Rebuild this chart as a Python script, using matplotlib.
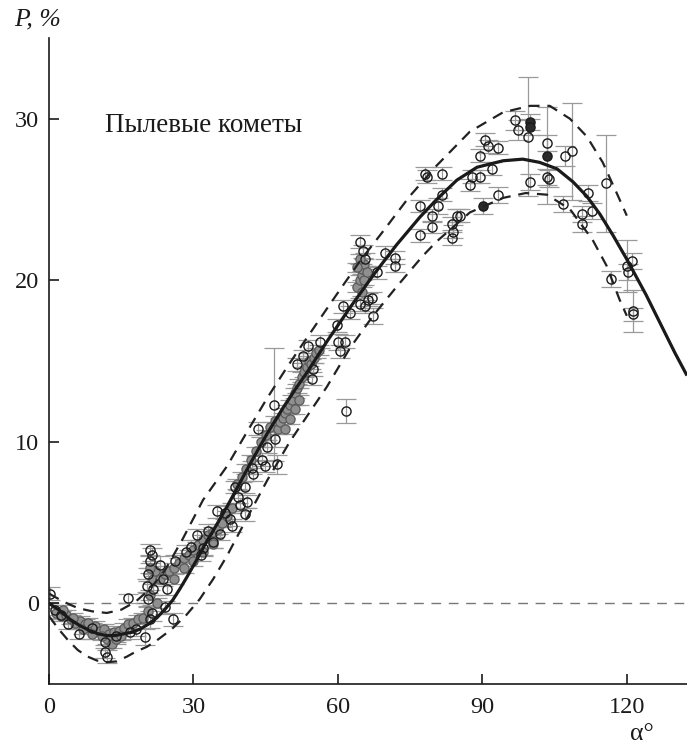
import numpy as np
import matplotlib
matplotlib.use("Agg")
import matplotlib.pyplot as plt

plt.rcParams["font.family"] = ["Liberation Serif", "DejaVu Serif"]

# fitted curve and its envelope
fit_alpha = [0, 2, 4.4, 6.5, 8.5, 10.3, 12, 13.7, 15.4, 17.2, 18.9, 20.6, 22.4, 24, 25.7,
             27.2, 28.6, 30.7, 32.5, 34.5, 37, 39, 41.7, 45.3, 48.6, 51.5, 53.6, 57.7, 62.5,
             67.3, 72.2, 77, 80.5, 84.7, 88.9, 94.3, 98.4, 101.9, 105.5, 108.8, 111.7, 114.4,
             117.1, 120, 122, 124, 126, 128, 130, 132.5]
fit_p = [0.0, -0.4, -1.0, -1.4, -1.7, -1.9, -2.0, -2.0, -1.9, -1.8, -1.6, -1.3, -0.9, -0.4, 0.2,
         0.9, 1.6, 2.7, 3.7, 4.7, 6.0, 7.1, 8.6, 10.5, 12.1, 13.4, 14.3, 16.2, 18.3,
         20.3, 22.2, 23.9, 25.0, 26.2, 27.0, 27.4, 27.5, 27.3, 26.9, 26.1, 25.2, 24.1,
         22.8, 21.3, 20.2, 19.1, 17.9, 16.7, 15.5, 14.1]

upper_alpha = [0, 3, 6, 9, 12, 15, 18, 21, 24, 27.8, 29.9, 32, 37, 41.1, 45.3, 49.4, 52.1, 59,
               64.6, 69.3, 74.9, 80.5, 87.4, 94.3, 99.9, 104, 108.2, 111.7, 115, 117.9, 120]
upper_p = [0.6, 0.1, -0.3, -0.5, -0.6, -0.4, 0.1, 0.9, 2.0, 4.0, 5.2, 6.4, 8.5, 10.6, 12.7, 14.6,
           15.8, 18.8, 21.2, 23.0, 25.2, 27.1, 29.2, 30.4, 30.8, 30.8, 30.0, 28.9, 27.3, 25.4, 24.0]

lower_alpha = [0, 2, 4, 6, 8, 10, 12, 14, 16.2, 18, 20.3, 22.4, 25.5, 28.6, 31.3, 34.1, 36.9,
               41.7, 45.3, 50, 57.7, 62.5, 67.3, 72.2, 77.6, 80.5, 87.4, 94.3, 99, 103.4, 108.2,
               112.9, 115.8, 118.5, 120]
lower_p = [-0.8, -1.6, -2.3, -2.9, -3.3, -3.55, -3.65, -3.6, -3.3, -3.0, -2.7, -2.3, -1.6, -0.7,
           0.25, 1.5, 2.9, 5.6, 7.6, 10.0, 13.4, 15.8, 17.8, 19.6, 21.5, 22.4, 24.2, 25.1, 25.4,
           25.3, 24.4, 22.5, 20.9, 18.8, 17.8]

# open-circle observations
obs_alpha = [0.2, 1.2, 2.5, 4.0, 6.2, 9.0, 11.6, 11.6, 12.0, 14.0, 16.4, 16.8, 18.0, 19.9,
             21.0, 21.4, 21.0, 20.6, 23.0, 26.2, 20.6, 21.4, 24.1, 25.8, 21.0, 23.6, 21.6,
             20.3, 24.5, 28.5, 29.5, 31.5, 32.0, 33.0, 35.5, 36.5,
             30.7, 34.0, 34.9, 37.6, 38.0, 40.7, 39.7, 41.1, 39.2, 38.6, 40.7, 42.1, 42.4,
             44.2, 44.8, 47.3, 45.3, 46.9, 43.4, 46.7, 61.7, 51.5, 52.7, 53.8, 56.3, 54.8,
             54.6, 59.8, 60.0, 61.5, 60.4, 61.0, 62.5, 64.6, 65.6, 66.2, 67.1, 67.3, 68.1,
             64.6, 65.2, 65.6, 69.8, 71.8, 71.8,
             78.1, 78.5, 81.6, 81.6, 77.0, 80.8, 79.5, 79.5, 77.0, 84.7, 85.3, 83.7, 83.9,
             83.7, 93.2, 87.4, 87.8, 89.5, 92.0, 89.5, 90.5, 91.1, 93.2, 96.7, 97.4, 99.4,
             99.9, 103.4, 103.4, 103.8, 107.1, 108.6, 106.7, 111.9, 110.7, 112.7, 110.7,
             115.6, 121.0, 120.0, 120.2, 116.7, 121.2, 121.2]
obs_p = [0.6, -0.4, -0.7, -1.3, -1.9, -1.5, -2.4, -3.0, -3.3, -2.0, 0.3, -1.8, -1.6, -2.1,
         3.3, 3.0, 2.6, 1.8, 2.4, 2.6, 0.25, -0.6, -0.25, -1.0, -1.0, 1.5, 0.9,
         1.1, 0.9, 3.2, 3.5, 3.0, 3.4, 4.5, 4.3, 5.6,
         4.2, 3.8, 5.7, 5.2, 4.8, 5.5, 6.1, 6.3, 6.6, 7.2, 7.2, 8.4, 8.0,
         8.9, 8.5, 8.6, 9.7, 10.2, 10.8, 12.3, 11.9, 14.8, 15.3, 15.9, 16.2, 14.5,
         13.9, 17.2, 16.2, 16.2, 15.6, 18.4, 18.0, 18.5, 18.4, 18.8, 18.9, 17.8, 20.5,
         22.4, 21.8, 21.3, 21.7, 21.4, 20.9,
         26.6, 26.4, 26.6, 25.3, 24.6, 24.6, 24.0, 23.3, 22.8, 24.0, 24.0, 23.5, 23.0,
         22.6, 25.3, 25.9, 26.4, 26.4, 26.9, 27.7, 28.7, 28.3, 28.2, 29.9, 29.3, 28.9,
         26.1, 28.5, 26.4, 26.3, 27.7, 28.0, 24.7, 25.4, 24.1, 24.3, 23.5,
         26.0, 21.2, 20.9, 20.5, 20.1, 18.1, 17.9]
obs_err = [0.4, 0.3, 0.3, 0.3, 0.3, 0.3, 0.4, 0.4, 0.4, 0.4, 0.3, 0.4, 0.4, 0.5,
           0.4, 0.4, 0.4, 0.4, 0.5, 0.4, 0.4, 0.5, 0.4, 0.4, 0.5, 0.4, 0.4,
           0.4, 0.4, 0.4, 0.4, 0.4, 0.4, 0.4, 0.4, 0.4,
           0.4, 0.4, 0.4, 0.4, 0.4, 0.4, 0.4, 0.4, 0.4, 0.4, 0.4, 0.4, 0.4,
           0.4, 0.4, 0.6, 0.4, 0.5, 0.4, 3.5, 0.75, 0.4, 0.4, 0.4, 0.4, 0.4,
           0.4, 0.4, 0.5, 0.4, 0.4, 0.4, 0.4, 0.4, 0.4, 0.4, 0.4, 0.5, 0.4,
           0.4, 0.4, 0.4, 0.4, 0.4, 0.4,
           0.4, 0.4, 0.4, 0.4, 0.4, 0.5, 0.4, 0.4, 0.4, 0.4, 0.4, 0.4, 0.4,
           0.4, 0.5, 0.4, 0.4, 0.4, 0.4, 0.4, 0.4, 0.4, 0.4, 0.6, 0.6, 3.7,
           0.5, 0.5, 0.5, 0.5, 0.6, 3.0, 0.5, 0.5, 0.5, 0.5, 0.5,
           3.0, 0.5, 1.6, 0.5, 0.5, 1.3, 0.4]

# dense data sets drawn as grey filled circles
dense_alpha = [1.5, 2.5, 3.5, 4.5, 5.5, 6.5, 7.5, 8.5, 9.5, 10.5, 11.5, 12.5, 13.5, 14.5,
               15.5, 16.5, 17.5, 18.5, 19.5, 12, 13, 14, 15, 9, 7, 3, 5, 8, 11,
               20.5, 21, 21.5, 22, 21, 22.5,
               23, 24, 25, 26, 27, 28, 29, 30, 31, 32, 33, 34, 35, 36, 37, 38, 26, 28, 30,
               32, 34,
               39, 40, 41, 42, 43, 44, 45, 46, 47,
               47.5, 48, 48.5, 49, 49.5, 50, 50.5, 51, 51.5, 52, 52.5, 53, 53.5, 54, 49, 50,
               51, 52, 54.5, 55, 55.5, 56,
               64, 64.5, 65, 65, 65.5, 64.5, 65, 65.5, 66, 64]
dense_p = [-0.6, -0.8, -0.7, -1.0, -1.2, -1.1, -1.3, -1.5, -1.4, -1.7, -1.6, -1.9, -1.8, -1.7,
           -1.5, -1.3, -1.2, -1.0, -0.9, -2.2, -2.5, -2.2, -2.0, -1.9, -1.6, -0.4, -0.9, -1.2,
           -2.0,
           -0.5, 0.5, 1.5, 2.0, 2.2, 0.0,
           1.5, 1.8, 2.0, 2.2, 2.5, 2.8, 3.0, 3.3, 3.6, 3.9, 4.2, 4.4, 4.6, 5.0, 5.4, 5.9,
           1.5, 2.2, 2.6, 3.2, 3.7,
           7.4, 7.8, 8.3, 8.9, 9.4, 10.0, 10.4, 10.9, 11.3,
           10.8, 11.2, 11.5, 11.8, 12.0, 12.3, 12.6, 13.0, 13.3, 13.6, 14.0, 14.3, 14.6, 15.0,
           10.8, 11.4, 12.0, 12.6, 14.8, 15.2, 15.5, 15.7,
           19.6, 20.0, 20.3, 20.7, 21.0, 21.3, 19.3, 20.0, 20.5, 20.8]
dense_err = [0.3] * len(dense_alpha)

# dark filled points
dark_alpha = [99.9, 99.9, 103.4, 90.1]
dark_p = [29.8, 29.5, 27.7, 24.6]
dark_err = [0.5, 0.5, 3.0, 0.5]

fig = plt.figure(figsize=(6.87, 7.47), dpi=100)
ax = fig.add_axes([0.0713, 0.0843, 0.9287, 0.8648])

ebar_kw = dict(fmt="none", ecolor="#9a9a9a", elinewidth=0.9, capsize=7, capthick=0.9, zorder=2)
mk = 6.6

ax.errorbar(dense_alpha, dense_p, yerr=dense_err, **ebar_kw)
ax.errorbar(obs_alpha, obs_p, yerr=obs_err, **ebar_kw)
ax.errorbar(dark_alpha, dark_p, yerr=dark_err, **ebar_kw)

ax.plot(dense_alpha, dense_p, "o", ms=mk, mfc="#8f8f8f", mec="#5a5a5a", mew=0.9, zorder=3)
ax.plot(obs_alpha, obs_p, "o", ms=mk, mfc="none", mec="#1a1a1a", mew=1.0, zorder=4)
ax.plot(dark_alpha, dark_p, "o", ms=mk, mfc="#2a2a2a", mec="#1a1a1a", mew=1.0, zorder=4)

ax.axhline(0, color="#777777", lw=1.0, dashes=(7, 5.5), zorder=1)

ax.plot(upper_alpha, upper_p, color="#222222", lw=1.6, dashes=(5, 3.5), zorder=5)
ax.plot(lower_alpha, lower_p, color="#222222", lw=1.6, dashes=(5, 3.5), zorder=5)
ax.plot(fit_alpha, fit_p, color="#1a1a1a", lw=2.3, zorder=6, solid_capstyle="butt")

ax.set_xlim(0, 132.5)
ax.set_ylim(-5, 35)
ax.set_xticks([0, 30, 60, 90, 120])
ax.set_yticks([0, 10, 20, 30])
for s in ["top", "right"]:
    ax.spines[s].set_visible(False)
for s in ["left", "bottom"]:
    ax.spines[s].set_linewidth(1.2)
    ax.spines[s].set_color("#1a1a1a")
ax.tick_params(direction="in", length=7, width=1.2, labelsize=17.5, colors="#1a1a1a")
ax.tick_params(axis="x", pad=9)
ax.tick_params(axis="y", pad=7)

ax.text(11.6, 29.6, "Пылевые кометы", fontsize=19.5, va="center", ha="left", color="#1a1a1a")
fig.text(0.054, 0.974, "P, %", fontsize=18.5, style="italic", ha="center", va="center",
         color="#1a1a1a")
fig.text(0.934, 0.017, "α°", fontsize=18.5, ha="center", va="center", color="#1a1a1a")

fig.savefig("out.png", dpi=100)
